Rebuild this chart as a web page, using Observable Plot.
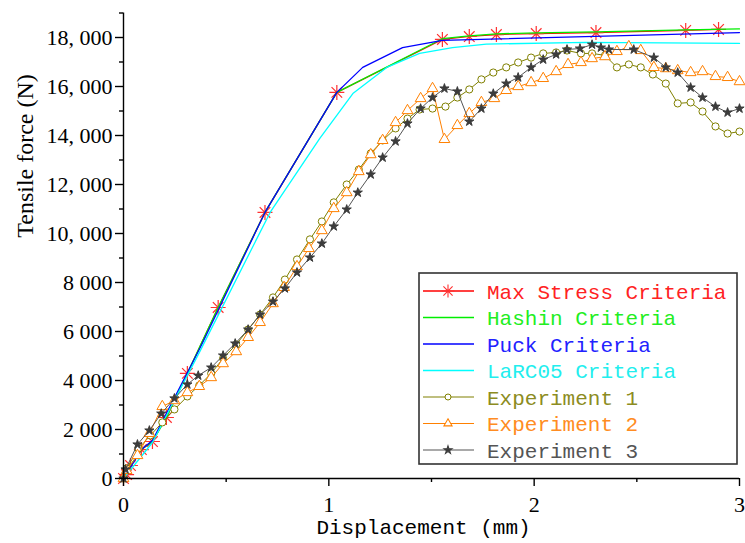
<!DOCTYPE html>
<html><head><meta charset="utf-8">
<script src="https://cdn.jsdelivr.net/npm/d3@7"></script>
<script src="https://cdn.jsdelivr.net/npm/@observablehq/plot@0.6"></script>
<style>body{margin:0;background:#fff;}</style>
</head><body><div id="chart"></div>
<script>
// ---- data (displacement in mm, force in N) ----
const maxStressX = [0, 0.015, 0.034, 0.087, 0.141, 0.209, 0.311, 0.461, 0.689, 1.039, 1.553, 1.684, 1.816, 2.010, 2.301, 2.738, 2.898];
const maxStressY = [0, 160, 530, 1180, 1510, 2490, 4290, 6980, 10860, 15760, 17920, 18040, 18120, 18160, 18200, 18290, 18330];

const hashinX = [0, 0.034, 0.087, 0.141, 0.209, 0.311, 0.461, 0.689, 1.039, 1.553, 1.684, 1.816, 2.010, 2.301, 2.738, 3.0];
const hashinY = [0, 530, 1180, 1510, 2490, 4290, 6980, 10860, 15760, 17950, 18070, 18150, 18190, 18230, 18310, 18350];

const puckX = [0, 0.087, 0.141, 0.374, 0.689, 1.039, 1.165, 1.359, 1.553, 3.0];
const puckY = [0, 1180, 1550, 5350, 10860, 15760, 16780, 17590, 17880, 18200];

const larcX = [0, 0.141, 0.374, 0.714, 0.956, 1.117, 1.282, 1.442, 1.602, 1.767, 2.252, 3.0];
const larcY = [0, 1470, 5220, 10860, 13880, 15710, 16780, 17350, 17590, 17730, 17800, 17760];

const exp1X = [0, 0.015, 0.073, 0.131, 0.189, 0.248, 0.311, 0.369, 0.427, 0.485, 0.549, 0.607, 0.665, 0.728, 0.786, 0.845, 0.908, 0.966, 1.024, 1.087, 1.146, 1.204, 1.262, 1.325, 1.383, 1.442, 1.505, 1.568, 1.626, 1.684, 1.743, 1.801, 1.864, 1.922, 1.985, 2.044, 2.107, 2.160, 2.228, 2.282, 2.345, 2.403, 2.461, 2.519, 2.578, 2.641, 2.699, 2.762, 2.820, 2.883, 2.942, 3.0];
const exp1Y = [0, 410, 1220, 1760, 2290, 2820, 3350, 3800, 4290, 4900, 5470, 6080, 6690, 7390, 8120, 8940, 9760, 10490, 11270, 12000, 12610, 13270, 13800, 14290, 14690, 15060, 15100, 15180, 15550, 15880, 16290, 16570, 16780, 16980, 17180, 17350, 17390, 17470, 17350, 17350, 17270, 16780, 16900, 16780, 16490, 16120, 15310, 15350, 14980, 14370, 14080, 14160];

const exp2X = [0, 0.015, 0.068, 0.126, 0.189, 0.248, 0.311, 0.369, 0.427, 0.485, 0.549, 0.607, 0.665, 0.728, 0.782, 0.845, 0.903, 0.966, 1.024, 1.087, 1.146, 1.204, 1.262, 1.325, 1.383, 1.447, 1.505, 1.563, 1.626, 1.684, 1.743, 1.806, 1.864, 1.922, 1.985, 2.044, 2.107, 2.165, 2.228, 2.282, 2.345, 2.403, 2.461, 2.519, 2.583, 2.641, 2.699, 2.762, 2.820, 2.883, 2.942, 3.0];
const exp2Y = [0, 330, 940, 1840, 2940, 3180, 3510, 3760, 4120, 4690, 5180, 5760, 6370, 7140, 7800, 8650, 9390, 10120, 11020, 11670, 12530, 13220, 13800, 14530, 15020, 15510, 15920, 13840, 14410, 14900, 15350, 15510, 15840, 16000, 16160, 16330, 16610, 16900, 16980, 17140, 17220, 17430, 17630, 17470, 16780, 16730, 16650, 16570, 16610, 16410, 16370, 16200];

const exp3X = [0, 0.010, 0.068, 0.126, 0.184, 0.248, 0.311, 0.364, 0.427, 0.485, 0.544, 0.607, 0.665, 0.728, 0.786, 0.845, 0.908, 0.966, 1.024, 1.087, 1.141, 1.204, 1.262, 1.325, 1.383, 1.447, 1.505, 1.563, 1.626, 1.684, 1.743, 1.801, 1.864, 1.922, 1.985, 2.044, 2.107, 2.160, 2.223, 2.282, 2.325, 2.364, 2.485, 2.583, 2.641, 2.699, 2.762, 2.820, 2.883, 2.942, 3.0];
const exp3Y = [0, 370, 1390, 1960, 2650, 3270, 3840, 4200, 4530, 5020, 5510, 6080, 6690, 7220, 7760, 8410, 9020, 9590, 10290, 10980, 11670, 12410, 13100, 13760, 14490, 15100, 15550, 15920, 15800, 14570, 15100, 15710, 16120, 16370, 16780, 17100, 17310, 17510, 17550, 17710, 17590, 17510, 17510, 17180, 16780, 16570, 15960, 15550, 15180, 14940, 15100];

const xTicks = [0, 1, 2, 3];
const xMinor = [0.5, 1.5, 2.5];
const yTicks = [0, 2000, 4000, 6000, 8000, 10000, 12000, 14000, 16000, 18000];
const yTickLabels = ["0", "2 000", "4 000", "6 000", "8 000", "10, 000", "12, 000", "14, 000", "16, 000", "18, 000"];
const yMinor = [1000, 3000, 5000, 7000, 9000, 11000, 13000, 15000, 17000, 19000];

const legendNames = ["Max Stress Criteria", "Hashin Criteria", "Puck Criteria", "LaRC05 Criteria", "Experiment 1", "Experiment 2", "Experiment 3"];

// ---- build ----
const rows = (xs, ys) => xs.map((x, i) => ({x, y: ys[i]}));

const asterisk = {
  draw(ctx, size) {
    const r = Math.sqrt(size / Math.PI);
    for (let k = 0; k < 4; k++) {
      const a = k * Math.PI / 4;
      ctx.moveTo(r * Math.cos(a), r * Math.sin(a));
      ctx.lineTo(-r * Math.cos(a), -r * Math.sin(a));
    }
  }
};

const series = [
  {name: legendNames[0], data: rows(maxStressX, maxStressY), color: "#ff0000", text: "#ff2222", width: 1.2, marker: asterisk, r: 7.5, mfill: "none", mstroke: "#ff3030", lr: 6.5},
  {name: legendNames[1], data: rows(hashinX, hashinY), color: "#00ee00", text: "#22ee22", width: 1.3},
  {name: legendNames[2], data: rows(puckX, puckY), color: "#0000ff", text: "#2222ff", width: 1.3},
  {name: legendNames[3], data: rows(larcX, larcY), color: "#00ffff", text: "#22eeee", width: 1.3},
  {name: legendNames[4], data: rows(exp1X, exp1Y), color: "#808000", text: "#8c8c22", width: 1, marker: "circle", r: 3.6, mfill: "white", mstroke: "#808000", lr: 3},
  {name: legendNames[5], data: rows(exp2X, exp2Y), color: "#ff8000", text: "#ff8c22", width: 1, marker: "triangle", r: 4, mfill: "white", mstroke: "#ff8000", lr: 3},
  {name: legendNames[6], data: rows(exp3X, exp3Y), color: "#555555", text: "#555555", width: 1, marker: "star", r: 2.9, mfill: "#3c3c3c", mstroke: "#3c3c3c", lr: 2.5}
];

const marks = [];
for (const s of series) {
  marks.push(Plot.line(s.data, {x: "x", y: "y", stroke: s.color, strokeWidth: s.width}));
  if (s.marker) marks.push(Plot.dot(s.data, {x: "x", y: "y", symbol: s.marker, r: s.r, fill: s.mfill, stroke: s.mstroke, strokeWidth: s.marker === asterisk ? 1.2 : 1}));
}

const plot = Plot.plot({
  width: 745, height: 543,
  marginLeft: 123, marginRight: 6, marginTop: 12.5, marginBottom: 65,
  x: {domain: [0, 3]},
  y: {domain: [0, 19000]},
  style: {fontFamily: "'Liberation Serif', 'Times New Roman', serif", fontSize: "22px", color: "#000", background: "#fff", overflow: "visible"},
  marks: [
    ...marks,
    Plot.ruleX([0], {stroke: "#000", strokeWidth: 1.4}),
    Plot.ruleY([0], {stroke: "#000", strokeWidth: 1.4}),
    Plot.axisX({ticks: xTicks, tickSize: 8, tickPadding: 10, tickFormat: d => String(d), label: null, strokeWidth: 1.4}),
    Plot.axisX({ticks: xMinor, tickSize: 4, tickFormat: () => "", label: null, strokeWidth: 1.4}),
    Plot.axisY({ticks: yTicks, tickSize: 8, tickPadding: 3, tickFormat: d => yTickLabels[yTicks.indexOf(d)], label: null, strokeWidth: 1.4}),
    Plot.axisY({ticks: yMinor, tickSize: 4, tickFormat: () => "", label: null, strokeWidth: 1.4}),
    Plot.text(["Tensile force (N)"], {frameAnchor: "left", dx: -98, dy: -8, rotate: -90, fontSize: 24, fontFamily: "'Liberation Serif', serif", fill: "#000"}),
    Plot.text(["Displacement (mm)"], {frameAnchor: "bottom", dx: -8, dy: 55, fontSize: 21, fontFamily: "'Liberation Mono', monospace", fill: "#000"})
  ]
});

document.getElementById("chart").appendChild(plot);

// ---- legend (inside plot area, lower right) ----
const svg = d3.select(plot);
const lg = svg.append("g").attr("class", "legend").attr("text-anchor", "start");
lg.append("rect").attr("x", 419).attr("y", 273).attr("width", 318).attr("height", 191)
  .attr("fill", "#fff").attr("stroke", "#333").attr("stroke-width", 1.6);
series.forEach((s, i) => {
  const cy = 291 + i * 26.5;
  lg.append("line").attr("x1", 423).attr("x2", 474).attr("y1", cy).attr("y2", cy)
    .attr("stroke", s.color).attr("stroke-width", s.width + 0.2);
  if (s.marker) {
    if (s.marker === "circle") {
      lg.append("circle").attr("cx", 448).attr("cy", cy).attr("r", s.lr).attr("fill", s.mfill).attr("stroke", s.mstroke);
    } else {
      const type = s.marker === "triangle" ? d3.symbolTriangle : s.marker === "star" ? d3.symbolStar : s.marker;
      lg.append("path").attr("transform", `translate(448,${cy})`)
        .attr("d", d3.symbol(type, Math.PI * s.lr * s.lr)())
        .attr("fill", s.mfill).attr("stroke", s.mstroke).attr("stroke-width", 1.1);
    }
  }
  lg.append("text").attr("x", 487).attr("y", cy).attr("dy", "0.36em").attr("text-anchor", "start")
    .attr("font-family", "'Liberation Mono', 'DejaVu Sans Mono', monospace").attr("font-size", 21)
    .attr("fill", s.text).text(s.name);
});
</script>
</body></html>
